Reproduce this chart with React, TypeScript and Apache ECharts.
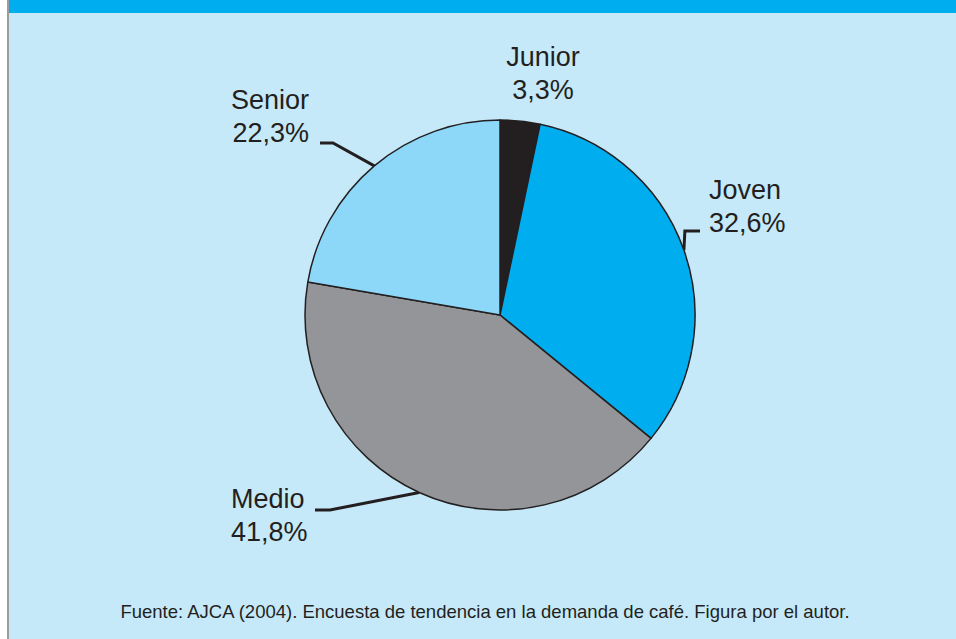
import React, { useEffect, useRef } from "react";
import * as echarts from "echarts";

const categories = ["Junior", "Joven", "Medio", "Senior"];
const values = [3.3, 32.6, 41.8, 22.3];
const colors = ["#231f20", "#00aeef", "#939598", "#8dd8f8"];
const footnote =
  "Fuente: AJCA (2004). Encuesta de tendencia en la demanda de café. Figura por el autor.";

const W = 956;
const H = 639;
const CX = 500;
const CY = 315;
const R = 195;

// label placement (layout only)
const labelPos = [
  { x: 543, y: 73, align: "center" },
  { x: 709, y: 206, align: "left" },
  { x: 231, y: 515, align: "left" },
  { x: 309, y: 116, align: "right" },
];

function midPoint(i: number): number[] {
  const total = values.reduce((a, b) => a + b, 0);
  let cum = 0;
  for (let k = 0; k < i; k++) cum += values[k];
  const ang = ((cum + values[i] / 2) / total) * Math.PI * 2;
  return [CX + R * Math.sin(ang), CY - R * Math.cos(ang)];
}

export default function App() {
  const ref = useRef<HTMLDivElement>(null);
  useEffect(() => {
    if (!ref.current) return;
    const chart = echarts.init(ref.current, undefined, { renderer: "svg" });
    const font = "'Liberation Sans', Arial, Helvetica, sans-serif";
    chart.setOption({
      animation: false,
      backgroundColor: "#ffffff",
      graphic: [
        { type: "rect", shape: { x: 9, y: 0, width: W - 9, height: H }, style: { fill: "#c6e9f9" }, z: -10 },
        { type: "rect", shape: { x: 9, y: 0, width: W - 9, height: 13 }, style: { fill: "#00aeef" }, z: -9 },
        { type: "rect", shape: { x: 7, y: 0, width: 2, height: H }, style: { fill: "#9c9c9c" }, z: -9 },
        {
          type: "text",
          x: 485,
          y: 611,
          style: {
            text: footnote,
            fill: "#231f20",
            font: `18.5px ${font}`,
            textAlign: "center",
            textVerticalAlign: "middle",
          },
        },
      ],
      series: [
        {
          type: "pie",
          center: [CX, CY],
          radius: R,
          startAngle: 90,
          clockwise: true,
          avoidLabelOverlap: false,
          itemStyle: { borderColor: "#231f20", borderWidth: 1.5 },
          emphasis: { disabled: true },
          label: {
            show: true,
            position: "outside",
            formatter: (p: any) => `${p.name}\n${String(p.value).replace(".", ",")}%`,
            color: "#231f20",
            fontFamily: font,
            fontSize: 27,
            lineHeight: 33,
          },
          labelLine: {
            show: true,
            lineStyle: { color: "#231f20", width: 3 },
          },
          labelLayout: (params: any) => {
            const i = params.dataIndex;
            const p = labelPos[i];
            const s = midPoint(i);
            let pts: number[][] | undefined;
            if (i === 1) pts = [s, [s[0] + 1, 231], [700, 231]];
            if (i === 2) pts = [s, [330, 510], [315, 510]];
            if (i === 3) pts = [s, [333, 143], [320, 143]];
            const out: any = { x: p.x, y: p.y, align: p.align, verticalAlign: "middle" };
            if (pts) out.labelLinePoints = pts;
            return out;
          },
          data: categories.map((c, i) => ({
            name: c,
            value: values[i],
            itemStyle: { color: colors[i] },
            labelLine: { show: i !== 0 },
          })),
        },
      ],
    });
    return () => chart.dispose();
  }, []);
  return (
    <div
      ref={ref}
      style={{ position: "absolute", left: 0, top: 0, width: W, height: H }}
    />
  );
}
